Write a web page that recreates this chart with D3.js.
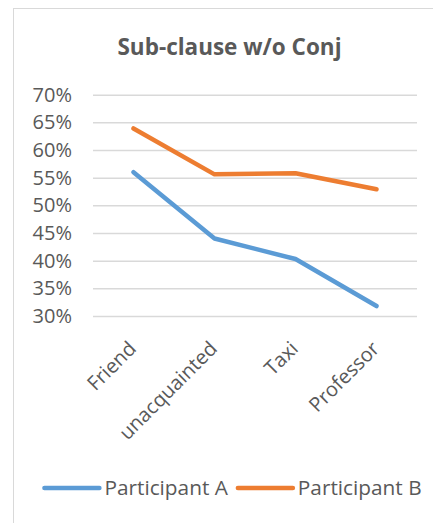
<!DOCTYPE html>
<html>
<head>
<meta charset="utf-8">
<script src="https://cdn.jsdelivr.net/npm/d3@7"></script>
<style>
  html, body { margin: 0; padding: 0; background: #fff; }
  svg { display: block; }
  text { font-family: "Open Sans", "Noto Sans", sans-serif; fill: #595959; }
</style>
</head>
<body>
<svg id="chart" width="433" height="523"></svg>
<script>
const title = "Sub-clause w/o Conj";
const categories = ["Friend", "unacquainted", "Taxi", "Professor"];
const seriesNames = ["Participant A", "Participant B"];
const participantA = [0.560, 0.440, 0.403, 0.318];
const participantB = [0.639, 0.556, 0.558, 0.529];
const yTicks = [0.30, 0.35, 0.40, 0.45, 0.50, 0.55, 0.60, 0.65, 0.70];
const colors = ["#5B9BD5", "#ED7D31"];

const svg = d3.select("#chart");

// chart frame
svg.append("rect")
  .attr("x", 13.5).attr("y", 8.5)
  .attr("width", 433).attr("height", 540)
  .attr("fill", "#fff").attr("stroke", "#d9d9d9").attr("stroke-width", 1);

const plot = { left: 93, right: 417, top: 94.7, bottom: 316 };

const x = d3.scaleBand().domain(categories).range([plot.left, plot.right]);
const y = d3.scaleLinear().domain([0.30, 0.70]).range([plot.bottom, plot.top]);

// title
svg.append("text")
  .attr("x", 229.5).attr("y", 55)
  .attr("text-anchor", "middle")
  .style("font-size", "22.5px").style("font-weight", "bold")
  .text(title);

// y axis with gridlines
const yAxis = d3.axisLeft(y).tickValues(yTicks)
  .tickFormat(d3.format(".0%"))
  .tickSize(-(plot.right - plot.left)).tickPadding(21);
const gy = svg.append("g").attr("transform", `translate(${plot.left},0)`).call(yAxis);
gy.select(".domain").remove();
gy.selectAll(".tick line").attr("stroke", "#d9d9d9").attr("stroke-width", 1.5);
gy.selectAll(".tick text")
  .attr("fill", "#595959")
  .style("font-size", "20px")
  .style("font-family", '"Open Sans", sans-serif');

// x axis labels
const xAxis = d3.axisBottom(x).tickSize(0).tickPadding(0);
const gx = svg.append("g").attr("transform", `translate(0,${plot.bottom})`).call(xAxis);
gx.select(".domain").remove();
gx.selectAll(".tick text")
  .attr("fill", "#595959")
  .style("font-size", "20px")
  .style("font-family", '"Open Sans", sans-serif')
  .attr("text-anchor", "end")
  .attr("y", 0).attr("dy", "0.35em")
  .attr("transform", "translate(-1,29) rotate(-45)");

// lines
const line = d3.line()
  .x((d, i) => x(categories[i]) + x.bandwidth() / 2)
  .y(d => y(d));

[participantA, participantB].forEach((vals, si) => {
  svg.append("path")
    .datum(vals)
    .attr("d", line)
    .attr("fill", "none")
    .attr("stroke", colors[si])
    .attr("stroke-width", 4.5)
    .attr("stroke-linecap", "round")
    .attr("stroke-linejoin", "round");
});

// legend
const legY = 488;
const lineLen = 55, gap1 = 5, gap2 = 10;
const leg = svg.append("g");
const items = seriesNames.map((name, i) => {
  const g = leg.append("g");
  g.append("line").attr("x1", 0).attr("x2", lineLen)
    .attr("y1", legY).attr("y2", legY)
    .attr("stroke", colors[i]).attr("stroke-width", 4.5)
    .attr("stroke-linecap", "round");
  const t = g.append("text").attr("x", lineLen + gap1).attr("y", legY).attr("dy", "0.35em")
    .style("font-size", "20.8px").text(name);
  return { g, w: lineLen + gap1 + t.node().getComputedTextLength() };
});
const total = d3.sum(items, d => d.w) + gap2 * (items.length - 1);
let cx = 233 - total / 2;
items.forEach(it => { it.g.attr("transform", `translate(${cx},0)`); cx += it.w + gap2; });
</script>
</body>
</html>
